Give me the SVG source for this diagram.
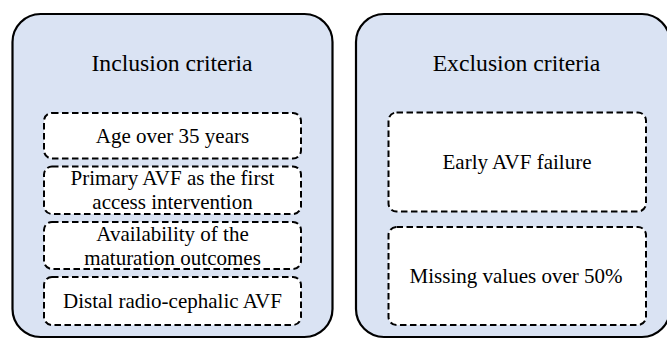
<svg xmlns="http://www.w3.org/2000/svg" width="667" height="339" viewBox="0 0 667 339">
  <style>
    .outer { fill: #dae3f3; stroke: #000; stroke-width: 2.2; }
    .inner { fill: #fff; stroke: #000; stroke-width: 2; stroke-dasharray: 6.5 3.5; }
    text { font-family: "Liberation Serif", "Times New Roman", Times, serif; fill: #000; text-anchor: middle; }
    .title { font-size: 23.7px; }
    .txt { font-size: 21px; }
  </style>
  <rect width="667" height="339" fill="#fff"/>
  <g id="inclusion">
    <rect class="outer" x="12.5" y="14" width="320" height="323" rx="28" ry="28"/>
    <text class="title" x="172" y="71">Inclusion criteria</text>
  </g>
  <g id="inc-age">
    <rect class="inner" x="44" y="113" width="257" height="45.5" rx="8" ry="8"/>
    <text class="txt" x="172.5" y="143">Age over 35 years</text>
  </g>
  <g id="inc-primary">
    <rect class="inner" x="44" y="166.5" width="257" height="47.5" rx="8" ry="8"/>
    <text class="txt" x="172.5" y="185.3">Primary AVF as the first</text>
    <text class="txt" x="172.5" y="208.8">access intervention</text>
  </g>
  <g id="inc-availability">
    <rect class="inner" x="44" y="222" width="257" height="47" rx="8" ry="8"/>
    <text class="txt" x="172.5" y="241.3">Availability of the</text>
    <text class="txt" x="172.5" y="264.8">maturation outcomes</text>
  </g>
  <g id="inc-distal">
    <rect class="inner" x="44" y="277" width="257" height="48" rx="8" ry="8"/>
    <text class="txt" x="172.5" y="308">Distal radio-cephalic AVF</text>
  </g>
  <g id="exclusion">
    <rect class="outer" x="356" y="14" width="314" height="323" rx="28" ry="28"/>
    <text class="title" x="516.5" y="71">Exclusion criteria</text>
  </g>
  <g id="exc-early">
    <rect class="inner" x="388.5" y="112.5" width="257.5" height="99" rx="8" ry="8"/>
    <text class="txt" x="517" y="169">Early AVF failure</text>
  </g>
  <g id="exc-missing">
    <rect class="inner" x="388.5" y="227" width="257.5" height="98" rx="8" ry="8"/>
    <text class="txt" x="516" y="283">Missing values over 50%</text>
  </g>
  <g id="connectors"/>
</svg>
